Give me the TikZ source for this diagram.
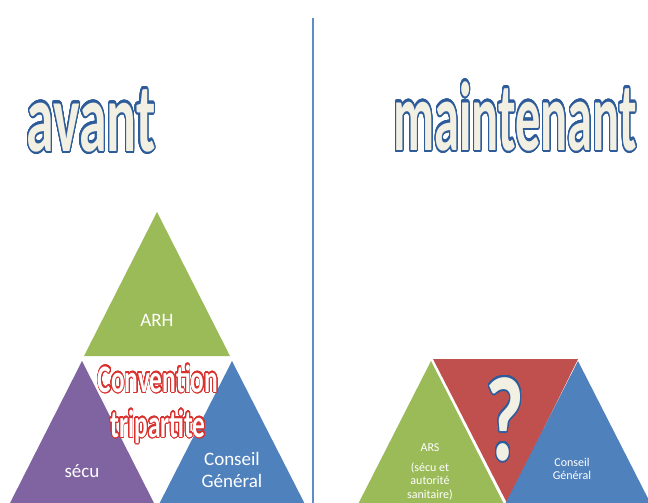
\documentclass[tikz,border=0pt]{standalone}
\usepackage{fontspec}
\setmainfont{Carlito}
\usepackage{contour}
\contournumber{32}
\definecolor{ogreen}{HTML}{9BBB59}
\definecolor{opurple}{HTML}{8064A2}
\definecolor{oblue}{HTML}{4F81BD}
\definecolor{ored}{HTML}{C0504D}
\definecolor{ivory}{HTML}{F2EFE3}
\definecolor{edgeblue}{HTML}{2E5C9A}
\definecolor{brightred}{HTML}{D8312E}
\definecolor{rule}{HTML}{5F8BC8}
\newcommand{\outlined}[4]{{\contourlength{#3}\scalebox{#4}[1]{\contour{#1}{#2}}}}
\begin{document}
\begin{tikzpicture}[x=1pt,y=-1pt,
  title/.style={font=\fontsize{98}{98}\bfseries\selectfont,text=ivory,anchor=base,inner sep=0pt},
  label/.style={font=\fontsize{19}{22}\selectfont,text=white,align=center,inner sep=0pt},
  small/.style={font=\fontsize{12}{13.5}\selectfont,text=white,align=center,inner sep=0pt},
  agreement/.style={font=\fontsize{39}{39}\bfseries\selectfont,text=white,anchor=base,inner sep=0pt}]
\useasboundingbox (0,0) rectangle (648,503);
\clip (0,0) rectangle (648,503);
\fill[white] (0,0) rectangle (648,503);

% dividing rule
\draw[rule,line width=2pt] (313,18) -- (313,503);

% titles
\node[title] (before) at (91,151) {\outlined{edgeblue}{avant}{2.2pt}{0.57}};
\node[title] (now) at (515,150) {\outlined{edgeblue}{maintenant}{2.2pt}{0.515}};

% left: three partners
\fill[ogreen] (157,212) -- (84,356) -- (230,356) -- cycle;
\fill[opurple] (82,361) -- (1.4,520) -- (162.6,520) -- cycle;
\fill[oblue] (232,361) -- (151,520) -- (313,520) -- cycle;
\node[label] (arh) at (157,320) {ARH};
\node[label] (secu) at (82,471) {sécu};
\node[label] (cg1) at (232,470) {Conseil\\Général};
\node[agreement] (conv) at (158,392) {\outlined{brightred}{Convention}{1.1pt}{0.65}};
\node[agreement] (trip) at (158,437) {\outlined{brightred}{tripartite}{1.1pt}{0.65}};

% right: two partners and the open question
\fill[ogreen] (431,361) -- (350,520) -- (512,520) -- cycle;
\fill[ored] (433,359) -- (578,359) -- (507,503) -- cycle;
\fill[oblue] (578,361) -- (497,520) -- (659,520) -- cycle;
\node[small] (ars) at (430,448) {ARS};
\node[small] (arsdetail) at (430,481) {(sécu et\\autorité\\sanitaire)};
\node[small] (cg2) at (572,469) {Conseil\\Général};
\node[font=\fontsize{120}{120}\bfseries\selectfont,text=ivory,anchor=base,inner sep=0pt] (q) at (505,460) {\outlined{edgeblue}{?}{2pt}{0.7}};
\end{tikzpicture}
\end{document}
